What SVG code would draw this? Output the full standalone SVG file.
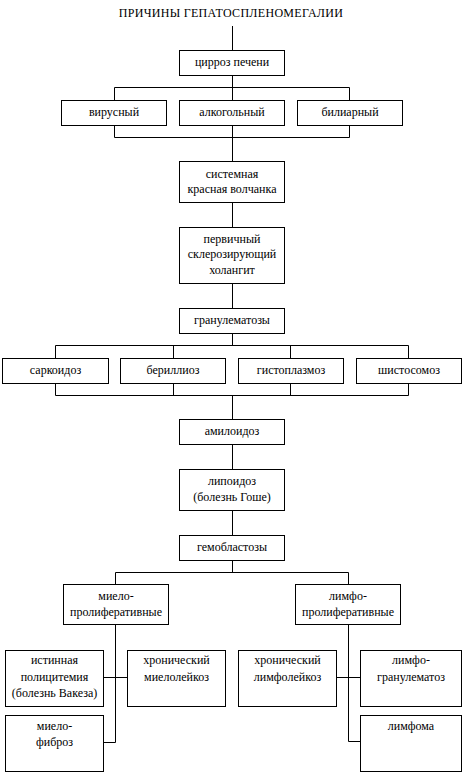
<svg xmlns="http://www.w3.org/2000/svg" width="463" height="773" viewBox="0 0 463 773">
<style>
text{font-family:"Liberation Serif","DejaVu Serif",serif;font-size:12px;fill:#000;text-anchor:middle}
rect{fill:#fff;stroke:#000;stroke-width:1}
#connectors path{fill:none;stroke:#000;stroke-width:1}
</style>
<rect x="0" y="0" width="463" height="773" style="stroke:none"/>
<g id="connectors">
<path d="M232.5 26V50.5"/>
<path d="M232.5 75.5V100.5M114.5 100.5V87.5H349.5V100.5"/>
<path d="M114.5 125.5V137.5H349.5V125.5M232.5 125.5V161.5"/>
<path d="M232.5 202.5V227.5M232.5 283.5V308.5"/>
<path d="M232.5 333.5V345.5M55.5 358.5V345.5H408.5V358.5M173.5 345.5V358.5M290.5 345.5V358.5"/>
<path d="M55.5 383.5V395.5H408.5V383.5M173.5 383.5V395.5M290.5 383.5V395.5M232.5 395.5V419.5"/>
<path d="M232.5 444.5V469.5M232.5 510.5V535.5M232.5 560.5V572.5"/>
<path d="M115.5 584.5V572.5H348.5V584.5"/>
<path d="M115.5 624.5V742.5H103.5M103.5 677.5H127.5"/>
<path d="M348.5 624.5V741.5H360.5M336.5 677.5H360.5"/>
</g>
<text x="231" y="17" style="letter-spacing:0.3px">ПРИЧИНЫ ГЕПАТОСПЛЕНОМЕГАЛИИ</text>
<g id="cirrhosis"><rect x="179.5" y="50.5" width="105" height="25"/><text x="232" y="66">цирроз печени</text></g>
<g id="viral"><rect x="61.5" y="100.5" width="105" height="25"/><text x="114" y="116">вирусный</text></g>
<g id="alcoholic"><rect x="179.5" y="100.5" width="105" height="25"/><text x="232" y="116">алкогольный</text></g>
<g id="biliary"><rect x="297.5" y="100.5" width="105" height="25"/><text x="350" y="116">билиарный</text></g>
<g id="sle"><rect x="179.5" y="161.5" width="105" height="41"/><text x="232" y="177.5">системная</text><text x="232" y="193">красная волчанка</text></g>
<g id="psc"><rect x="179.5" y="227.5" width="105" height="56"/><text x="232" y="243">первичный</text><text x="232" y="258">склерозирующий</text><text x="232" y="273.5">холангит</text></g>
<g id="granulomatoses"><rect x="179.5" y="308.5" width="105" height="25"/><text x="232" y="324">гранулематозы</text></g>
<g id="sarcoidosis"><rect x="2.5" y="358.5" width="106" height="25"/><text x="55.5" y="374">саркоидоз</text></g>
<g id="berylliosis"><rect x="120.5" y="358.5" width="105" height="25"/><text x="173" y="374">бериллиоз</text></g>
<g id="histoplasmosis"><rect x="238.5" y="358.5" width="105" height="25"/><text x="291" y="374">гистоплазмоз</text></g>
<g id="schistosomiasis"><rect x="356.5" y="358.5" width="105" height="25"/><text x="409" y="374">шистосомоз</text></g>
<g id="amyloidosis"><rect x="179.5" y="419.5" width="105" height="25"/><text x="232" y="435">амилоидоз</text></g>
<g id="lipoidosis"><rect x="179.5" y="469.5" width="105" height="41"/><text x="232" y="485">липоидоз</text><text x="232" y="501">(болезнь Гоше)</text></g>
<g id="hemoblastoses"><rect x="179.5" y="535.5" width="105" height="25"/><text x="232" y="551">гемобластозы</text></g>
<g id="myeloprolif"><rect x="63.5" y="584.5" width="105" height="40"/><text x="116" y="599.5">миело-</text><text x="116" y="616">пролиферативные</text></g>
<g id="lymphoprolif"><rect x="295.5" y="584.5" width="105" height="40"/><text x="348" y="599.5">лимфо-</text><text x="348" y="616">пролиферативные</text></g>
<g id="polycythemia"><rect x="5.5" y="650.5" width="98" height="56"/><text x="54.5" y="664">истинная</text><text x="54.5" y="681">полицитемия</text><text x="54.5" y="697">(болезнь Вакеза)</text></g>
<g id="cml"><rect x="127.5" y="650.5" width="98" height="56"/><text x="176.5" y="664">хронический</text><text x="176.5" y="681">миелолейкоз</text></g>
<g id="myelofibrosis"><rect x="5.5" y="715.5" width="98" height="56"/><text x="54.5" y="730">миело-</text><text x="54.5" y="746">фиброз</text></g>
<g id="cll"><rect x="238.5" y="650.5" width="98" height="56"/><text x="287.5" y="664">хронический</text><text x="287.5" y="681">лимфолейкоз</text></g>
<g id="lymphogranulomatosis"><rect x="360.5" y="650.5" width="101" height="56"/><text x="411" y="664">лимфо-</text><text x="411" y="681">гранулематоз</text></g>
<g id="lymphoma"><rect x="360.5" y="715.5" width="101" height="56"/><text x="411" y="730">лимфома</text></g>
</svg>
